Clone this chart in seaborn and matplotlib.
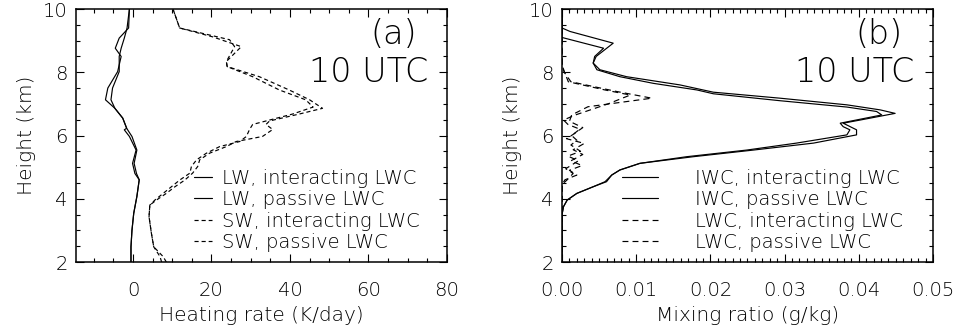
import numpy as np
import pandas as pd
import matplotlib
matplotlib.use("Agg")
import matplotlib.pyplot as plt
from matplotlib.ticker import MultipleLocator, FormatStrFormatter
import seaborn as sns

# ---- (a) heating-rate profiles (K/day) vs height (km) ----
lw_int_h = [2.0, 2.48, 3.0, 3.54, 4.07, 4.6, 4.8, 5.12, 5.54, 5.97, 6.18, 6.23, 6.55, 6.86, 7.13, 7.5, 8.02, 8.5, 8.76, 9.08, 9.4, 10.0]
lw_int_v = [-0.5, -0.5, -0.25, 0.2, 1.0, 1.6, 0.5, -0.1, 0.8, -0.9, -2.2, -1.6, -2.6, -4.6, -7.0, -6.4, -3.9, -3.0, -4.5, -3.5, -1.1, -0.9]
lw_pas_h = [2.0, 2.48, 3.0, 3.54, 4.07, 4.6, 4.8, 5.12, 5.54, 5.97, 6.18, 6.23, 6.55, 6.86, 7.13, 7.5, 8.02, 8.5, 8.76, 9.08, 9.4, 10.0]
lw_pas_v = [-0.5, -0.5, -0.25, 0.2, 1.0, 1.6, 0.9, 0.3, 1.0, -0.25, -1.35, -1.6, -2.6, -4.6, -5.6, -5.2, -3.5, -3.5, -3.0, -2.2, -1.5, -0.9]

sw_int_h = [2.0, 2.17, 2.48, 2.91, 3.43, 3.8, 3.96, 4.17, 4.38, 4.59, 4.81, 5.02, 5.23, 5.44, 5.65, 5.81, 5.97, 6.19, 6.35, 6.46, 6.68, 6.9, 7.13, 7.44, 7.86, 8.18, 8.34, 8.81, 9.03, 9.4, 10.0]
sw_int_v = [7.3, 6.9, 5.3, 4.7, 4.1, 4.3, 5.6, 7.7, 9.8, 11.9, 14.5, 14.9, 16.2, 18.7, 22.1, 27.2, 28.9, 29.7, 30.5, 33.9, 40.7, 45.9, 44.0, 37.3, 30.5, 24.0, 23.8, 25.9, 24.6, 11.9, 10.2]
sw_pas_h = [2.0, 2.17, 2.48, 2.91, 3.43, 3.8, 3.96, 4.17, 4.38, 4.59, 4.81, 5.02, 5.23, 5.44, 5.65, 5.81, 5.97, 6.19, 6.35, 6.46, 6.68, 6.86, 7.13, 7.44, 7.86, 8.18, 8.34, 8.81, 9.12, 9.4, 10.0]
sw_pas_v = [8.5, 7.7, 5.3, 4.7, 4.1, 4.3, 6.0, 8.5, 10.7, 13.2, 15.2, 16.5, 17.0, 19.5, 23.8, 26.3, 33.0, 35.6, 33.9, 34.8, 42.4, 48.3, 45.0, 39.8, 32.2, 24.0, 23.8, 27.6, 20.3, 11.9, 10.2]

# ---- (b) mixing ratios (g/kg) vs height (km) ----
iwc_int_h = [2.0, 3.5, 3.75, 3.96, 4.17, 4.38, 4.54, 4.75, 4.91, 5.12, 5.33, 5.54, 5.76, 6.02, 6.18, 6.39, 6.49, 6.7, 6.81, 6.97, 7.18, 7.37, 7.6, 7.86, 8.08, 8.29, 8.5, 8.92, 9.29, 9.4, 10.0]
iwc_int_v = [0.0, 0.0, 0.0002, 0.0007, 0.002, 0.0042, 0.006, 0.0067, 0.0078, 0.0105, 0.0177, 0.0258, 0.0339, 0.0397, 0.0397, 0.0379, 0.0402, 0.0449, 0.0429, 0.0384, 0.0294, 0.0204, 0.0159, 0.0087, 0.0051, 0.0042, 0.0046, 0.0069, 0.00108, 0.0, 0.0]
iwc_pas_h = [2.0, 3.5, 3.75, 3.96, 4.17, 4.38, 4.54, 4.75, 4.91, 5.12, 5.33, 5.54, 5.76, 6.02, 6.18, 6.28, 6.39, 6.65, 6.76, 6.9, 7.1, 7.32, 7.44, 7.65, 7.86, 8.08, 8.29, 8.5, 8.76, 9.1, 10.0]
iwc_pas_v = [0.0, 0.0, 0.0002, 0.0007, 0.002, 0.0042, 0.0058, 0.0067, 0.0078, 0.0105, 0.0168, 0.0249, 0.0316, 0.0384, 0.0388, 0.0379, 0.0375, 0.0431, 0.0424, 0.0384, 0.0294, 0.0204, 0.0182, 0.0123, 0.0078, 0.0047, 0.0042, 0.0044, 0.0056, 0.0, 0.0]

lwc_int_h = [2.0, 4.45, 4.6, 4.8, 4.95, 5.2, 5.35, 5.5, 5.7, 5.85, 6.0, 6.2, 6.35, 6.49, 6.65, 7.0, 7.28, 7.44, 7.7, 8.08, 8.3, 10.0]
lwc_int_v = [0.0, 0.0, 0.0007, 0.0015, 0.0005, 0.0022, 0.0008, 0.0025, 0.0012, 0.002, 0.0013, 0.0024, 0.0008, 0.0002, 0.0018, 0.0062, 0.0092, 0.0058, 0.00085, 0.0002, 0.0, 0.0]
lwc_pas_h = [2.0, 4.45, 4.6, 4.75, 4.9, 5.05, 5.2, 5.4, 5.55, 5.75, 5.9, 6.05, 6.25, 6.45, 6.65, 6.91, 7.18, 7.4, 7.7, 8.0, 8.3, 10.0]
lwc_pas_v = [0.0, 0.0, 0.0004, 0.002, 0.001, 0.0027, 0.0012, 0.0028, 0.0015, 0.003, 0.0006, 0.0016, 0.0028, 0.001, 0.0013, 0.0035, 0.0121, 0.0072, 0.0012, 0.0003, 0.0, 0.0]

sns.set_theme(style="ticks")
plt.rcParams["font.family"] = ["DejaVu Sans"]
plt.rcParams["font.weight"] = 200
plt.rcParams["axes.labelweight"] = 200
plt.rcParams["text.color"] = "black"
plt.rcParams["axes.labelcolor"] = "black"
plt.rcParams["xtick.color"] = "black"
plt.rcParams["ytick.color"] = "black"
plt.rcParams["axes.edgecolor"] = "black"
plt.rcParams["axes.linewidth"] = 1.1

fig = plt.figure(figsize=(9.66, 3.29), dpi=100)
ax_a = fig.add_axes([0.0787, 0.2036, 0.384, 0.769])
ax_b = fig.add_axes([0.5818, 0.2036, 0.384, 0.769])

LW = 0.85
short_dash = (0, (3.5, 2.5))
long_dash = (0, (5, 3.5))
FS_TICK = 14
FS_LABEL = 14.5
FS_LEG = 14
FS_TAG = 24


def profile(ax, x, h, label, dashes):
    df = pd.DataFrame({"x": x, "h": h})
    sns.lineplot(data=df, x="x", y="h", ax=ax, orient="y", sort=False,
                 estimator=None, color="black", linewidth=LW,
                 linestyle=dashes, label=label)


profile(ax_a, lw_int_v, lw_int_h, "LW, interacting LWC", "-")
profile(ax_a, lw_pas_v, lw_pas_h, "LW, passive LWC", "-")
profile(ax_a, sw_int_v, sw_int_h, "SW, interacting LWC", short_dash)
profile(ax_a, sw_pas_v, sw_pas_h, "SW, passive LWC", short_dash)

profile(ax_b, iwc_int_v, iwc_int_h, "IWC, interacting LWC", "-")
profile(ax_b, iwc_pas_v, iwc_pas_h, "IWC, passive LWC", "-")
profile(ax_b, lwc_int_v, lwc_int_h, "LWC, interacting LWC", long_dash)
profile(ax_b, lwc_pas_v, lwc_pas_h, "LWC, passive LWC", long_dash)

ax_a.set_xlim(-14.5, 80)
ax_a.xaxis.set_major_locator(MultipleLocator(20))
ax_a.xaxis.set_minor_locator(MultipleLocator(5))
ax_b.set_xlim(0, 0.05)
ax_b.xaxis.set_major_locator(MultipleLocator(0.01))
ax_b.xaxis.set_minor_locator(MultipleLocator(0.001))
ax_b.xaxis.set_major_formatter(FormatStrFormatter("%.2f"))

for ax, xlabel, tag in [(ax_a, "Heating rate (K/day)", "(a)"),
                        (ax_b, "Mixing ratio (g/kg)", "(b)")]:
    ax.set_ylim(2, 10)
    ax.yaxis.set_major_locator(MultipleLocator(2))
    ax.yaxis.set_minor_locator(MultipleLocator(0.5))
    ax.tick_params(which="both", direction="in", top=True, right=True,
                   width=0.8, colors="black", labelcolor="black")
    ax.tick_params(which="major", length=6, labelsize=FS_TICK)
    ax.tick_params(which="minor", length=3)
    ax.tick_params(axis="x", which="major", pad=14)
    ax.tick_params(axis="y", which="major", pad=6)
    ax.set_xlabel(xlabel, fontsize=FS_LABEL, labelpad=4, color="black")
    ax.set_ylabel("Height (km)", fontsize=FS_LABEL, labelpad=5, color="black")
    for s in ax.spines.values():
        s.set_color("black")
    ax.text(0.919, 0.9, tag, transform=ax.transAxes, ha="right", va="center",
            fontsize=FS_TAG, color="black")
    ax.text(0.949, 0.75, "10 UTC", transform=ax.transAxes, ha="right",
            va="center", fontsize=FS_TAG, color="black")

for ax, x0, hl, tp in [(ax_a, 0.318, 0.93, 0.5), (ax_b, 0.162, 1.86, 1.9)]:
    leg = ax.legend(loc="upper left", bbox_to_anchor=(x0, 0.368),
                    frameon=False, fontsize=FS_LEG, handlelength=hl,
                    handletextpad=tp, labelspacing=0.12, borderpad=0,
                    borderaxespad=0)
    for t in leg.get_texts():
        t.set_color("black")

fig.savefig("out.png", dpi=100, facecolor="white")
